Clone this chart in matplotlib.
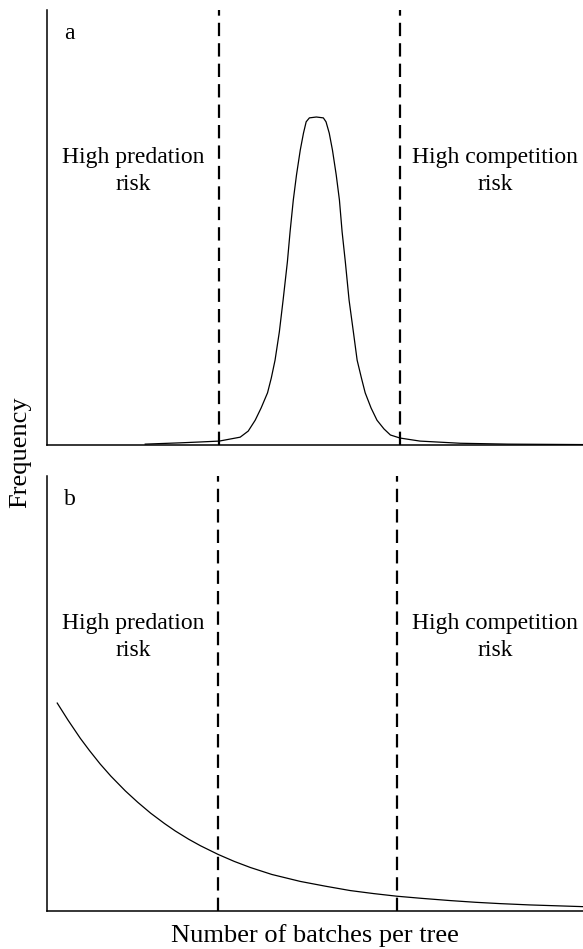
import matplotlib
matplotlib.use("Agg")
import matplotlib.pyplot as plt

plt.rcParams['font.family'] = ['Liberation Serif', 'DejaVu Serif']

# Panel a: unimodal frequency distribution (x: relative batches per tree, y: relative frequency)
a_x = [0.184, 0.250, 0.287, 0.322, 0.361, 0.376, 0.389, 0.400, 0.412, 0.419,
       0.426, 0.434, 0.441, 0.449, 0.454, 0.460, 0.466, 0.473, 0.479, 0.484,
       0.490, 0.503, 0.516, 0.521, 0.527, 0.533, 0.540, 0.546, 0.551, 0.557,
       0.564, 0.572, 0.579, 0.587, 0.594, 0.605, 0.616, 0.629, 0.641, 0.659,
       0.696, 0.771, 0.860, 1.000]
a_y = [0.002, 0.005, 0.007, 0.009, 0.018, 0.032, 0.057, 0.085, 0.120, 0.154,
       0.195, 0.260, 0.333, 0.421, 0.490, 0.563, 0.621, 0.678, 0.717, 0.743,
       0.752, 0.754, 0.752, 0.743, 0.717, 0.678, 0.621, 0.563, 0.490, 0.421,
       0.333, 0.260, 0.195, 0.154, 0.120, 0.085, 0.057, 0.037, 0.023, 0.016,
       0.009, 0.004, 0.002, 0.001]

# Panel b: decreasing frequency distribution
b_x = [0.020, 0.040, 0.063, 0.080, 0.100, 0.120, 0.147, 0.170, 0.194, 0.220,
       0.240, 0.265, 0.287, 0.320, 0.350, 0.380, 0.420, 0.473, 0.520, 0.566,
       0.610, 0.653, 0.700, 0.752, 0.800, 0.845, 0.900, 0.950, 1.000]
b_y = [0.478, 0.439, 0.397, 0.369, 0.338, 0.310, 0.276, 0.250, 0.225, 0.201,
       0.184, 0.165, 0.150, 0.130, 0.114, 0.100, 0.084, 0.068, 0.057, 0.047,
       0.040, 0.034, 0.029, 0.024, 0.020, 0.017, 0.014, 0.012, 0.010]

a_bounds = [0.322, 0.659]
b_bounds = [0.320, 0.653]

panel_labels = ['a', 'b']
left_text = 'High predation\nrisk'
right_text = 'High competition\nrisk'
xlabel = 'Number of batches per tree'
ylabel = 'Frequency'

W, H = 583, 949
fig = plt.figure(figsize=(W / 100, H / 100), dpi=100)

left = 46.5 / W
axh = 435 / H
ax_a = fig.add_axes([left, 1 - 445 / H, 1 - left, axh])
ax_b = fig.add_axes([left, 1 - 911 / H, 1 - left, axh])

fs = 17
for ax, xs, ys, bounds, lab in [(ax_a, a_x, a_y, a_bounds, panel_labels[0]),
                                (ax_b, b_x, b_y, b_bounds, panel_labels[1])]:
    ax.plot(xs, ys, color='black', lw=0.9, solid_joinstyle='round')
    for bx in bounds:
        ax.axvline(bx, color='black', lw=1.6, dashes=(6, 3.2))
    ax.set_xlim(0, 1)
    ax.set_ylim(0, 1)
    ax.set_xticks([])
    ax.set_yticks([])
    for s in ['top', 'right']:
        ax.spines[s].set_visible(False)
    for s in ['left', 'bottom']:
        ax.spines[s].set_linewidth(1.1)
    ax.text(0.032, 0.933, lab, transform=ax.transAxes, fontsize=fs,
            ha='left', va='baseline')
    ax.text(0.162, 0.586, left_text, transform=ax.transAxes, fontsize=fs,
            ha='center', va='baseline', linespacing=1.4,
            multialignment='center')
    ax.text(0.836, 0.586, right_text, transform=ax.transAxes, fontsize=fs,
            ha='center', va='baseline', linespacing=1.4,
            multialignment='center')

fig.text(left + (1 - left) / 2, 1 - 942 / H, xlabel, fontsize=19,
         ha='center', va='baseline')
fig.text(20 / W, 1 - 452 / H, ylabel, fontsize=19, rotation=90,
         ha='center', va='center')

fig.savefig('out.png', dpi=100)
